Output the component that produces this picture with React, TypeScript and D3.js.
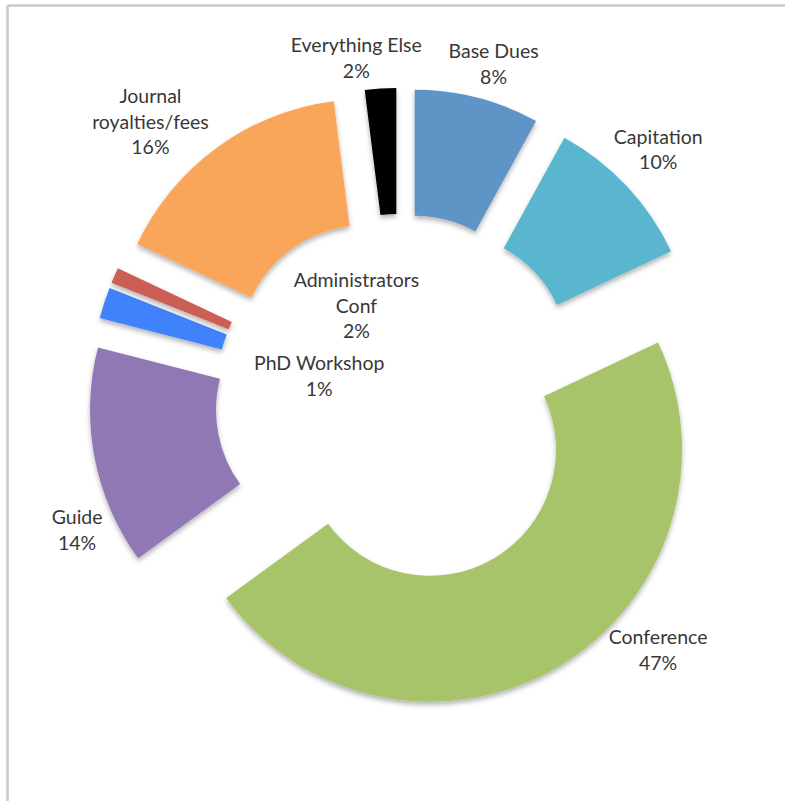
import React from "react";
import * as d3 from "d3";

// ---- data ----
const categories = [
  "Base Dues",
  "Capitation",
  "Conference",
  "Guide",
  "Administrators Conf",
  "PhD Workshop",
  "Journal royalties/fees",
  "Everything Else",
];
const shares = [8, 10, 47, 14, 2, 1, 16, 2];
const labelLines = [
  ["Base Dues"],
  ["Capitation"],
  ["Conference"],
  ["Guide"],
  ["Administrators", "Conf"],
  ["PhD Workshop"],
  ["Journal", "royalties/fees"],
  ["Everything Else"],
];
const colors = [
  "#5f94c7",
  "#5ab6ce",
  "#a8c46b",
  "#8f78b3",
  "#3f82fb",
  "#cb5f56",
  "#f9a65a",
  "#000000",
];
// label placement (polar, degrees clockwise from 12 o'clock, radius from chart centre)
const labelAngles = [15.6, 46, 134.2, 247.9, 335, 285.8, 318, 352.7];
const labelRadii = [348, 359, 360, 348.5, 103, 84, 373, 344];

const W = 785;
const H = 801;
const CX = 400;
const CY = 399;
const R_OUT = 252;
const R_IN = 126;
const EXPLODE = 59;
const LINE_H = 25.5;

export default function App() {
  const items = categories.map((c, i) => ({ name: c, value: shares[i], i }));
  const pie = d3
    .pie<any>()
    .sort(null)
    .value((d: any) => d.value)
    .startAngle(0)
    .endAngle(2 * Math.PI);
  const arcs = pie(items);
  const arc = d3.arc<any>().innerRadius(R_IN).outerRadius(R_OUT);

  return (
    <svg
      width={W}
      height={H}
      style={{ position: "absolute", left: 0, top: 0, background: "#fff" }}
    >
      <defs>
        <filter id="shadow" x="-20%" y="-20%" width="140%" height="140%">
          <feDropShadow dx="0" dy="3" stdDeviation="2.5" floodColor="#000" floodOpacity="0.3" />
        </filter>
      </defs>
      <rect x={0} y={0} width={W} height={H} fill="#fff" />
      {/* frame */}
      <line x1={7.5} y1={5.5} x2={W} y2={5.5} stroke="#c9c9c9" strokeWidth={2.5} />
      <line x1={7.5} y1={5.5} x2={7.5} y2={H} stroke="#c9c9c9" strokeWidth={2.5} />
      <g transform={`translate(${CX},${CY})`}>
        {arcs.map((a: any) => {
          const mid = (a.startAngle + a.endAngle) / 2;
          const dx = EXPLODE * Math.sin(mid);
          const dy = -EXPLODE * Math.cos(mid);
          return (
            <path
              key={a.data.name}
              d={arc(a) as string}
              transform={`translate(${dx},${dy})`}
              fill={colors[a.data.i]}
              filter="url(#shadow)"
            />
          );
        })}
        {arcs.map((a: any) => {
          const i = a.data.i;
          const th = (labelAngles[i] * Math.PI) / 180;
          const lx = labelRadii[i] * Math.sin(th);
          const ly = -labelRadii[i] * Math.cos(th);
          const lines = [...labelLines[i], `${shares[i]}%`];
          const y0 = ly - ((lines.length - 1) / 2) * LINE_H;
          return (
            <text
              key={"l" + a.data.name}
              textAnchor="middle"
              fontFamily="Lato, 'Open Sans', sans-serif"
              fontSize={19.5}
              fill="#383838"
            >
              {lines.map((t, k) => (
                <tspan key={k} x={lx} y={y0 + k * LINE_H} dy="0.36em">
                  {t}
                </tspan>
              ))}
            </text>
          );
        })}
      </g>
    </svg>
  );
}
